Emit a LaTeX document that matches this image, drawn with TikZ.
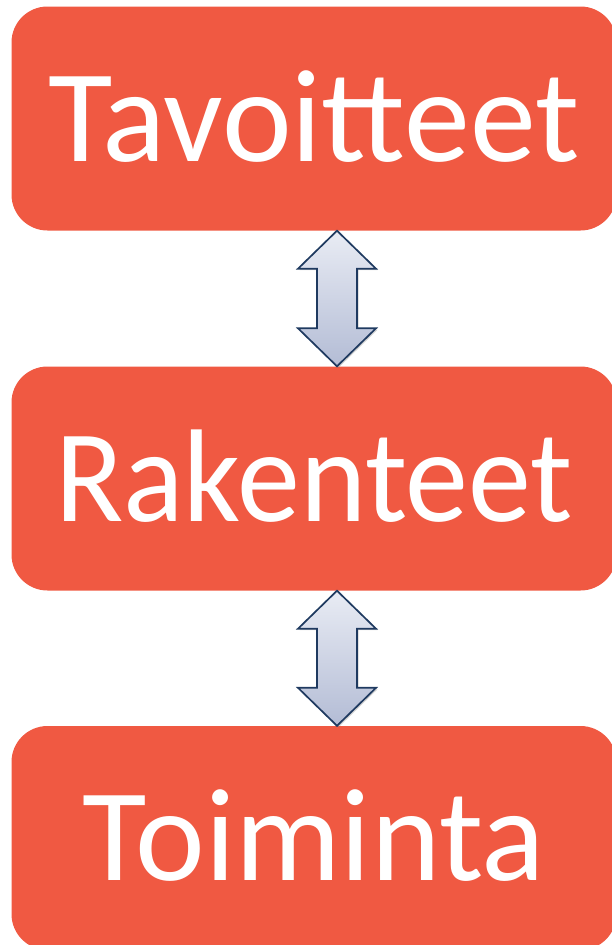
\documentclass[tikz,border=0pt]{standalone}
\usepackage{fontspec}
\setmainfont{Carlito}
\usetikzlibrary{calc,shadows}

\definecolor{boxred}{HTML}{F05942}
\definecolor{linkblue}{HTML}{1F3A60}
\definecolor{linktop}{HTML}{E9ECF4}
\definecolor{linkbottom}{HTML}{B3BCD5}

\begin{document}
\begin{tikzpicture}[x=1pt, y=1pt]

        \useasboundingbox (0, 0) rectangle (611, -945);

        \pgfmathsetmacro{\boxw}{605}
        \pgfmathsetmacro{\boxh}{224}

        % Boxes are red with white text, arrows are
        % shaded double arrows with a dark outline
        \tikzset{
            level/.style={fill=boxred, rounded corners=36pt,
                minimum width=\boxw pt, minimum height=\boxh pt,
                inner sep=0pt, text=white, text height=85pt, text depth=0pt,
                font=\fontsize{132}{132}\selectfont},
            link/.style={draw=linkblue, line width=1.7pt, line join=miter,
                top color=linktop, bottom color=linkbottom,
                drop shadow={opacity=0.35, shadow xshift=1.5pt, shadow yshift=-1.5pt}}
        }

        % Scope for the three levels, one under the other
        \begin{scope}
            \node[level] (tav) at (314, -118.5) {Tavoitteet};
            \node[level] (rak) at (314, -478.5) {\scalebox{0.955}[1]{Rakenteet}};
            \node[level] (toi) at (314, -838) {Toiminta};
        \end{scope}

        % Double arrows between the levels,
        % head 38 long and 78 wide, shaft 40 wide
        \foreach \a/\b in {tav/rak, rak/toi} {
            \draw[link] let \p1 = ($(\a.south)+(23, 0)$),
                            \p2 = ($(\b.north)+(23, 0)$) in
                (\p1) -- (\x1+39pt, \y1-38pt) -- (\x1+20pt, \y1-38pt)
                -- (\x1+20pt, \y2+38pt) -- (\x1+39pt, \y2+38pt)
                -- (\p2) -- (\x1-39pt, \y2+38pt) -- (\x1-20pt, \y2+38pt)
                -- (\x1-20pt, \y1-38pt) -- (\x1-39pt, \y1-38pt) -- cycle;
        }

\end{tikzpicture}
\end{document}
